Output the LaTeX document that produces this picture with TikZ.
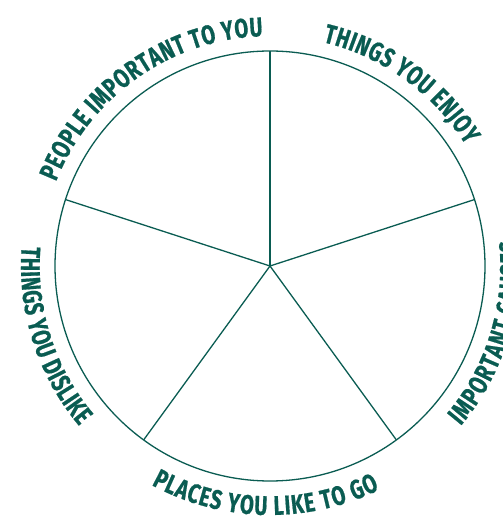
\documentclass[tikz,border=0pt]{standalone}
\usepackage{fontspec}
\newfontfamily\labelfont[FakeStretch=0.74,FakeBold=0.6]{Fira Sans}
\usetikzlibrary{decorations.text}
\definecolor{wheelgreen}{RGB}{10,92,82}
\newcommand\lblfont{\labelfont\bfseries\fontsize{27}{30}\selectfont}
\begin{document}
\begin{tikzpicture}[x=1pt,y=1pt,
  rim/.style={circle, draw=wheelgreen, line width=1.3pt, minimum size=430pt, inner sep=0pt, outer sep=0pt},
  spoke/.style={draw=wheelgreen, line width=1.3pt},
  arclabel/.style={decorate, decoration={text along path, text align={fit to path}, text color=wheelgreen, text={|\lblfont|#1}}}]
\useasboundingbox (0,0) rectangle (503,517);
\node[rim] (wheel) at (270,251) {};
\foreach \a in {90,18,-54,-126,162}
  \draw[spoke] (wheel.center) -- (wheel.\a);
% clockwise labels (tops outward)
\path[arclabel={PEOPLE IMPORTANT TO YOU}] (wheel.center) ++(158.5:230pt) arc[start angle=158.5, end angle=91.8, radius=230pt];
\path[arclabel={THINGS YOU ENJOY}] (wheel.center) ++(76.7:230pt) arc[start angle=76.7, end angle=31.7, radius=230pt];
% counter-clockwise labels (tops toward centre)
\path[arclabel={IMPORTANT CAUSES}] (wheel.center) ++(-40:249pt) arc[start angle=-40, end angle=6, radius=249pt];
\path[arclabel={PLACES YOU LIKE TO GO}] (wheel.center) ++(241.6:249pt) arc[start angle=241.6, end angle=296.1, radius=249pt];
\path[arclabel={THINGS YOU DISLIKE}] (wheel.center) ++(175.5:249pt) arc[start angle=175.5, end angle=220, radius=249pt];
\end{tikzpicture}
\end{document}
